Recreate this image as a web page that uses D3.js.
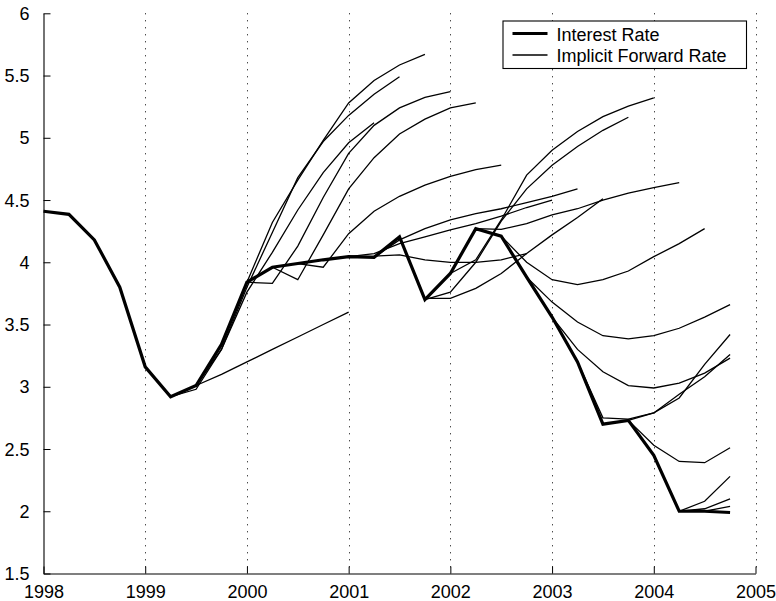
<!DOCTYPE html>
<html>
<head>
<meta charset="utf-8">
<script src="https://cdn.jsdelivr.net/npm/d3@7"></script>
<style>
  html, body { margin: 0; padding: 0; background: #fff; }
  svg { display: block; font-family: "Liberation Sans", Arial, Helvetica, sans-serif; }
</style>
</head>
<body>
<svg id="chart" width="776" height="601"></svg>
<script>
// Quarterly observations of the interest rate
const quarters = [
  1998, 1998.25, 1998.5, 1998.75,
  1999, 1999.25, 1999.5, 1999.75,
  2000, 2000.25, 2000.5, 2000.75,
  2001, 2001.25, 2001.5, 2001.75,
  2002, 2002.25, 2002.5, 2002.75,
  2003, 2003.25, 2003.5, 2003.75,
  2004, 2004.25, 2004.5, 2004.75
];
const interestRate = [
  4.41, 4.385, 4.18, 3.80,
  3.16, 2.92, 3.01, 3.34,
  3.84, 3.96, 3.99, 4.02,
  4.045, 4.04, 4.205, 3.70,
  3.91, 4.27, 4.21, 3.88,
  3.56, 3.20, 2.70, 2.73,
  2.45, 2.00, 2.00, 1.99
];

// Implicit forward curves: each begins at its start quarter and steps forward quarterly
const forwardStarts = [
  1999, 1999.25, 1999.5, 1999.75,
  2000, 2000.25, 2000.5, 2000.75,
  2001, 2001.25, 2001.5, 2001.75,
  2002, 2002.25, 2002.5, 2002.75,
  2003, 2003.25, 2003.5, 2003.75,
  2004, 2004.25, 2004.5
];
const forwardCurves = [
  [3.16, 2.92, 3.01, 3.10, 3.20, 3.30, 3.40, 3.50, 3.60],
  [2.92, 2.98, 3.30, 3.76, 4.08, 4.42, 4.72, 4.96, 5.12],
  [3.01, 3.30, 3.80, 4.24, 4.68, 4.97, 5.18, 5.35, 5.49],
  [3.34, 3.84, 4.32, 4.66, 4.98, 5.28, 5.46, 5.585, 5.67],
  [3.84, 3.83, 4.13, 4.52, 4.875, 5.10, 5.24, 5.325, 5.37],
  [3.96, 3.86, 4.22, 4.59, 4.84, 5.03, 5.15, 5.24, 5.28],
  [3.99, 3.96, 4.23, 4.41, 4.53, 4.62, 4.69, 4.745, 4.78],
  [4.02, 4.045, 4.05, 4.06, 4.02, 4.00, 4.00, 4.02, 4.07],
  [4.045, 4.07, 4.15, 4.205, 4.26, 4.31, 4.37, 4.44, 4.50],
  [4.04, 4.18, 4.27, 4.34, 4.39, 4.43, 4.48, 4.53, 4.59],
  [4.205, 3.71, 3.71, 3.79, 3.91, 4.07, 4.22, 4.36, 4.51],
  [3.70, 3.76, 4.00, 4.33, 4.59, 4.78, 4.93, 5.06, 5.165],
  [3.91, 4.02, 4.34, 4.70, 4.90, 5.05, 5.17, 5.255, 5.32],
  [4.27, 4.265, 4.31, 4.38, 4.43, 4.50, 4.555, 4.60, 4.64],
  [4.21, 4.00, 3.86, 3.82, 3.86, 3.93, 4.045, 4.15, 4.27],
  [3.88, 3.68, 3.52, 3.41, 3.385, 3.41, 3.47, 3.56, 3.66],
  [3.56, 3.30, 3.12, 3.01, 2.99, 3.03, 3.11, 3.23],
  [3.20, 2.75, 2.74, 2.79, 2.91, 3.18, 3.42],
  [2.70, 2.73, 2.79, 2.94, 3.08, 3.26],
  [2.73, 2.53, 2.40, 2.39, 2.51],
  [2.45, 2.00, 2.08, 2.28],
  [2.00, 2.02, 2.10],
  [2.00, 2.04]
];
const quarterStep = 0.25;

const xTicks = [1998, 1999, 2000, 2001, 2002, 2003, 2004, 2005];
const yTicks = [1.5, 2, 2.5, 3, 3.5, 4, 4.5, 5, 5.5, 6];
const legendLabels = ["Interest Rate", "Implicit Forward Rate"];

// Layout
const svg = d3.select("#chart");
const plotLeft = 43.5, plotRight = 755.5, plotTop = 13.3, plotBottom = 573.5;
const x = d3.scaleLinear().domain([1998, 2005]).range([plotLeft, plotRight]);
const y = d3.scaleLinear().domain([1.5, 6]).range([plotBottom, plotTop]);

// Dotted vertical grid at each year
svg.append("g")
  .selectAll("line")
  .data(xTicks.filter(t => t > 1998))
  .join("line")
  .attr("x1", d => Math.round(x(d)) + 0.5)
  .attr("x2", d => Math.round(x(d)) + 0.5)
  .attr("y1", plotTop)
  .attr("y2", plotBottom)
  .attr("stroke", "#000")
  .attr("stroke-width", 1)
  .attr("stroke-dasharray", "1 6");

// Axes with inward ticks
const xAxis = d3.axisBottom(x).tickValues(xTicks).tickFormat(d3.format("d"))
  .tickSizeInner(-7).tickSizeOuter(0).tickPadding(12);
const yAxis = d3.axisLeft(y).tickValues(yTicks).tickFormat(d => String(d))
  .tickSizeInner(-7).tickSizeOuter(0).tickPadding(14);

const gx = svg.append("g").attr("transform", `translate(0,${plotBottom})`).call(xAxis);
const gy = svg.append("g").attr("transform", `translate(${plotLeft},0)`).call(yAxis);

[gx, gy].forEach(g => {
  g.select(".domain").attr("stroke", "#000").attr("stroke-width", 1.1);
  g.selectAll(".tick line").attr("stroke", "#000").attr("stroke-width", 1);
  g.selectAll(".tick text")
    .attr("fill", "#000")
    .style("font-size", "18px")
    .style("font-family", '"Liberation Sans", Arial, Helvetica, sans-serif');
});
gx.selectAll(".tick text").attr("dy", "0.72em");
gy.selectAll(".tick text").attr("dy", "0.34em");

const line = d3.line().x(d => x(d[0])).y(d => y(d[1]));

// Forward curves (thin)
svg.append("g")
  .selectAll("path")
  .data(forwardCurves.map((vals, i) =>
    vals.map((v, k) => [forwardStarts[i] + k * quarterStep, v])))
  .join("path")
  .attr("d", line)
  .attr("fill", "none")
  .attr("stroke", "#000")
  .attr("stroke-width", 1.3)
  .attr("stroke-linejoin", "miter");

// Interest rate (thick)
svg.append("path")
  .datum(quarters.map((q, i) => [q, interestRate[i]]))
  .attr("d", line)
  .attr("fill", "none")
  .attr("stroke", "#000")
  .attr("stroke-width", 3.2)
  .attr("stroke-linejoin", "miter");

// Legend
const lg = svg.append("g");
lg.append("rect")
  .attr("x", 503).attr("y", 21)
  .attr("width", 243.5).attr("height", 47.5)
  .attr("fill", "#fff")
  .attr("stroke", "#000")
  .attr("stroke-width", 1.1);
const legendRows = [
  { label: legendLabels[0], w: 3.2, yy: 33.5 },
  { label: legendLabels[1], w: 1.3, yy: 55 }
];
legendRows.forEach(r => {
  lg.append("line")
    .attr("x1", 512.5).attr("x2", 547.5)
    .attr("y1", r.yy).attr("y2", r.yy)
    .attr("stroke", "#000").attr("stroke-width", r.w);
  lg.append("text")
    .attr("x", 556.5).attr("y", r.yy + 7)
    .attr("fill", "#000")
    .style("font-size", "18px")
    .text(r.label);
});
</script>
</body>
</html>
